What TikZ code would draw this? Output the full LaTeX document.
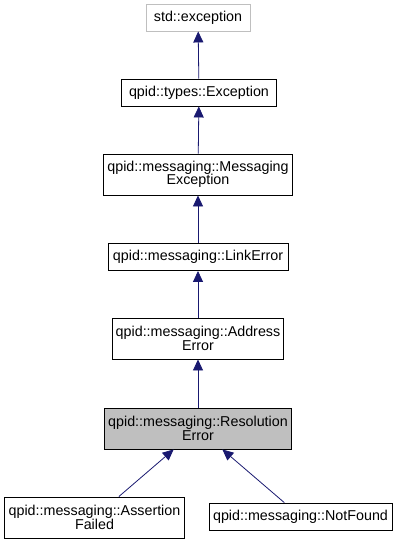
\documentclass[tikz,border=0pt]{standalone}
\usepackage{fontspec}
\setmainfont{Liberation Sans}
\usetikzlibrary{arrows.meta}

\definecolor{edgeblue}{RGB}{25,25,112}
\definecolor{boxgray}{RGB}{191,191,191}

\tikzset{
  cls/.style={draw=black, fill=white, line width=0.9pt, inner sep=2pt,
    minimum height=27pt, align=center,
    font=\fontsize{14.3}{13.5}\selectfont},
  cls2/.style={cls, minimum height=41pt},
  extcls/.style={cls, draw=boxgray},
  focuscls/.style={cls2, fill=boxgray},
  inherit/.style={draw=edgeblue, line width=0.8pt,
    -{Triangle[length=11pt,width=10pt]}}
}

\begin{document}
\begin{tikzpicture}[x=1pt,y=-1pt]

    % Cadre de la page
    \useasboundingbox (0,0) rectangle (397,544);

    % Classes de la chaine d'heritage
    \node[extcls, minimum width=104pt] (stdexc) at (198,17.5) {std::exception};
    \node[cls, minimum width=155pt] (typesexc) at (199,92.5) {qpid::types::Exception};
    \node[cls2, minimum width=189pt] (msgexc) at (198,174.5) {qpid::messaging::Messaging\\Exception};
    \node[cls, minimum width=180pt] (linkerr) at (198,257) {qpid::messaging::LinkError};
    \node[cls2, minimum width=171pt] (addrerr) at (198,338.5) {qpid::messaging::Address\\Error};
    \node[focuscls, minimum width=187pt] (reserr) at (198,428.5) {qpid::messaging::Resolution\\Error};

    % Classes derivees
    \node[cls2, minimum width=180pt] (assertfail) at (94.5,517.5) {qpid::messaging::Assertion\\Failed};
    \node[cls, minimum width=183pt] (notfound) at (300.5,516.5) {qpid::messaging::NotFound};

    % Fleches d'heritage (fille -> mere)
    \foreach \child/\parent in {typesexc/stdexc, msgexc/typesexc, linkerr/msgexc,
        addrerr/linkerr, reserr/addrerr, assertfail/reserr, notfound/reserr}{
      \draw[inherit] (\child) -- (\parent);
    }

  \end{tikzpicture}
\end{document}
